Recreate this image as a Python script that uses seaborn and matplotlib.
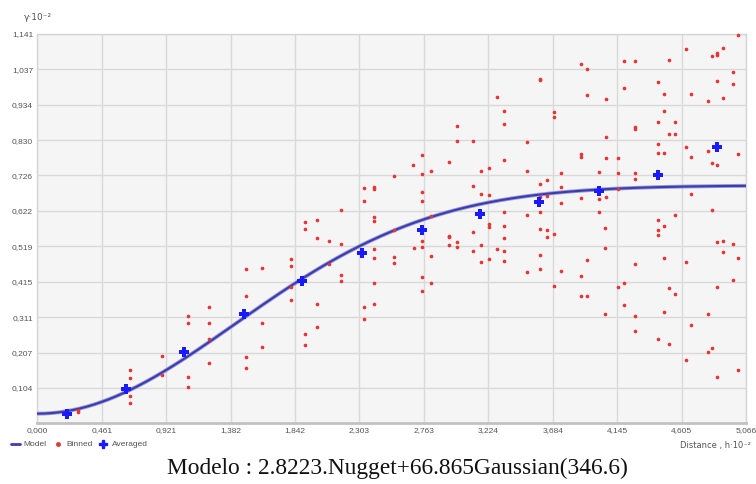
import numpy as np
import pandas as pd
import matplotlib
matplotlib.use("Agg")
import matplotlib.pyplot as plt
import seaborn as sns
from matplotlib.lines import Line2D

# Semivariogram cloud (binned pairs): lag distance (x10^2) and semivariance (x10^-2)
binned_h = [
    0.294, 0.294, 0.662, 0.662, 0.662, 0.662, 0.893, 0.893, 1.075, 1.075, 1.075, 1.075,
    1.227, 1.227, 1.227, 1.227, 1.489, 1.489, 1.489, 1.489, 1.604, 1.604, 1.604,
    1.813, 1.813, 1.813, 1.813, 1.911, 1.911, 1.911, 1.911, 1.999, 1.999, 1.999, 1.999,
    2.087, 2.087, 2.172, 2.172, 2.172, 2.172, 2.335, 2.335, 2.335, 2.335,
    2.408, 2.408, 2.408, 2.408, 2.408, 2.408, 2.408, 2.408, 2.549, 2.549, 2.549, 2.549,
    2.687, 2.690, 2.751, 2.751, 2.751, 2.751, 2.751, 2.751, 2.751, 2.751,
    2.815, 2.815, 2.815, 2.815, 2.942, 2.942, 2.942, 2.942, 2.999, 2.999, 2.999, 2.999,
    3.118, 3.118, 3.118, 3.118, 3.173, 3.173, 3.173, 3.173, 3.230, 3.230, 3.230, 3.230, 3.230,
    3.285, 3.283, 3.337, 3.337, 3.337, 3.497, 3.497, 3.594, 3.594, 3.594, 3.594,
    3.644, 3.644, 3.692, 3.692, 3.740, 3.740, 3.883, 3.883, 3.883, 3.883, 3.928, 3.928,
    4.016, 4.016, 4.062, 4.062, 4.062, 4.062, 4.150, 4.150, 4.150, 4.195, 4.195,
    4.273, 4.273, 4.273, 4.273, 4.273, 4.440, 4.440, 4.440, 4.440, 4.478, 4.478, 4.478,
    4.519, 4.519, 4.559, 4.559, 4.638, 4.638, 4.673, 4.673, 4.673, 4.791, 4.791,
    4.823, 4.823, 4.859, 4.859, 4.859, 4.859, 4.902, 4.902, 4.973, 4.973, 5.007, 5.007,
    3.337, 3.337, 3.337, 3.337, 3.337, 3.497, 3.497, 3.594, 3.594, 3.594, 3.594,
    3.642, 3.642, 3.692, 3.692, 3.740, 3.740, 3.883, 3.883, 3.926, 3.926, 4.016,
    4.059, 4.059, 4.059, 4.150, 4.192, 4.192, 4.273, 4.273, 4.273,
    4.438, 4.438, 4.438, 4.438, 4.478, 4.478, 4.478, 4.519, 4.519, 4.557, 4.557,
    4.640, 4.640, 4.673, 4.791, 4.791, 4.826, 4.826, 4.859, 4.859, 4.859,
    4.900, 4.900, 4.971, 4.971, 5.007, 5.007,
]
binned_g = [
    0.039, 0.032, 0.157, 0.134, 0.081, 0.059, 0.197, 0.141, 0.314, 0.295, 0.137, 0.105,
    0.340, 0.295, 0.248, 0.176, 0.452, 0.373, 0.195, 0.162, 0.455, 0.295, 0.224,
    0.482, 0.460, 0.400, 0.362, 0.590, 0.569, 0.263, 0.229, 0.596, 0.543, 0.349, 0.283,
    0.533, 0.467, 0.626, 0.525, 0.435, 0.416, 0.689, 0.652, 0.340, 0.306,
    0.693, 0.686, 0.604, 0.594, 0.511, 0.484, 0.412, 0.349, 0.725, 0.566, 0.486, 0.471,
    0.758, 0.515, 0.786, 0.731, 0.679, 0.651, 0.533, 0.517, 0.428, 0.388,
    0.738, 0.608, 0.490, 0.412, 0.765, 0.550, 0.546, 0.522, 0.870, 0.827, 0.530, 0.517,
    0.827, 0.696, 0.561, 0.506, 0.740, 0.673, 0.522, 0.474, 0.749, 0.669, 0.583, 0.574, 0.482,
    0.511, 0.955, 0.915, 0.876, 0.772, 0.825, 0.740, 1.010, 1.005, 0.702, 0.664,
    0.712, 0.667, 0.912, 0.898, 0.733, 0.693, 1.053, 0.789, 0.781, 0.661, 1.038, 0.963,
    0.737, 0.656, 0.949, 0.839, 0.776, 0.664, 0.776, 0.733, 0.687, 1.062, 0.982,
    1.061, 0.869, 0.861, 0.733, 0.716, 1.000, 0.884, 0.818, 0.793, 0.965, 0.915, 0.793,
    1.065, 0.847, 0.884, 0.847, 1.097, 0.811, 0.964, 0.779, 0.673, 0.944, 0.798,
    1.077, 0.763, 1.084, 1.079, 1.002, 0.758, 1.100, 0.952, 1.028, 0.995, 1.139, 0.790,
    0.618, 0.577, 0.543, 0.505, 0.476, 0.609, 0.443, 0.620, 0.569, 0.494, 0.453,
    0.566, 0.545, 0.555, 0.403, 0.645, 0.445, 0.432, 0.372, 0.478, 0.372, 0.618,
    0.571, 0.515, 0.319, 0.398, 0.411, 0.347, 0.468, 0.314, 0.270,
    0.596, 0.567, 0.553, 0.248, 0.579, 0.484, 0.325, 0.396, 0.232, 0.611, 0.379,
    0.472, 0.185, 0.289, 0.319, 0.208, 0.626, 0.220, 0.530, 0.398, 0.137,
    0.533, 0.502, 0.524, 0.419, 0.484, 0.157,
]

# Averaged semivariance per lag bin
avg_h = [0.210, 0.634, 1.050, 1.477, 1.894, 2.320, 2.747, 3.168, 3.587, 4.014, 4.435, 4.857]
avg_g = [0.026, 0.101, 0.210, 0.320, 0.417, 0.500, 0.567, 0.613, 0.648, 0.682, 0.728, 0.810]

# Fitted model parameters
nugget = 2.8223
partial_sill = 66.865
model_range = 346.6

x_max = 5.066
y_max = 1.141
x_ticklabels = ["0,000", "0,461", "0,921", "1,382", "1,842", "2,303",
                "2,763", "3,224", "3,684", "4,145", "4,605", "5,066"]
y_ticklabels = ["0,104", "0,207", "0,311", "0,415", "0,519", "0,622",
                "0,726", "0,830", "0,934", "1,037", "1,141"]

sns.set_theme(style="whitegrid")
plt.rcParams['font.family'] = ['Liberation Sans Narrow', 'Liberation Sans', 'DejaVu Sans']

fig = plt.figure(figsize=(7.56, 4.84), dpi=100)
fig.patch.set_facecolor("white")
ax = fig.add_axes([0.0493, 0.1254, 0.9375, 0.8046])
ax.set_facecolor("#f5f5f5")

# Gaussian model curve (distance axis in units of 10^2, semivariance in 10^-2)
h = np.linspace(0, x_max, 400)
gamma = (nugget + partial_sill * (1 - np.exp(-3 * (h * 100 / model_range) ** 2))) / 100
model_df = pd.DataFrame({"h": h, "gamma": gamma})
binned_df = pd.DataFrame({"h": binned_h, "gamma": binned_g})
avg_df = pd.DataFrame({"h": avg_h, "gamma": avg_g})

sns.lineplot(data=model_df, x="h", y="gamma", ax=ax, color="#9a9ad8", lw=2.8, zorder=3)
sns.lineplot(data=model_df, x="h", y="gamma", ax=ax, color="#3c3cae", lw=1.5, zorder=4)
sns.scatterplot(data=binned_df, x="h", y="gamma", ax=ax, color="#e53535", s=7,
                linewidth=0, zorder=5, clip_on=False)
sns.scatterplot(data=avg_df, x="h", y="gamma", ax=ax, color="#1a1aff", marker="P",
                s=50, linewidth=0, zorder=6)

ax.set_xlim(0, x_max)
ax.set_ylim(0, y_max)
ax.set_xticks(np.linspace(0, x_max, len(x_ticklabels)))
ax.set_xticklabels(x_ticklabels)
ax.set_yticks(np.linspace(0, y_max, len(y_ticklabels) + 1)[1:])
ax.set_yticklabels(y_ticklabels)
ax.set_xlabel("")
ax.set_ylabel("")
ax.tick_params(length=0, labelsize=6, colors="#555555", pad=3)
ax.grid(True, color="#d9d9d9", lw=1)

for side in ("top", "right", "left"):
    ax.spines[side].set_color("#d6d6d6")
    ax.spines[side].set_linewidth(1)
    ax.spines[side].set_visible(True)
ax.spines["bottom"].set_color("#c2c2c2")
ax.spines["bottom"].set_linewidth(2)
ax.spines["bottom"].set_visible(True)

fig.text(0.031, 0.958, "γ·10⁻²", fontsize=6.5, color="#555555",
         family=['Liberation Sans Narrow', 'DejaVu Sans'])
fig.text(0.993, 0.074, "Distance , h·10⁻²", fontsize=6, color="#555555", ha="right",
         family=['Liberation Sans Narrow', 'DejaVu Sans'])

handles = [
    Line2D([], [], color="#3c3cae", lw=2),
    Line2D([], [], color="#e53535", marker="o", ms=2.5, lw=0),
    Line2D([], [], color="#1a1aff", marker="P", ms=6, lw=0),
]
fig.legend(handles, ["Model", "Binned", "Averaged"], loc="lower left",
           bbox_to_anchor=(0.005, 0.058), ncol=3, fontsize=6, frameon=False,
           handlelength=1.0, handletextpad=0.5, columnspacing=0.8, labelcolor="#555555")

fig.text(0.526, 0.020, f"Modelo : {nugget}.Nugget+{partial_sill}Gaussian({model_range})",
         ha="center", fontsize=16.8, color="#111111", family="Liberation Serif")

fig.savefig("out.png", dpi=100)
